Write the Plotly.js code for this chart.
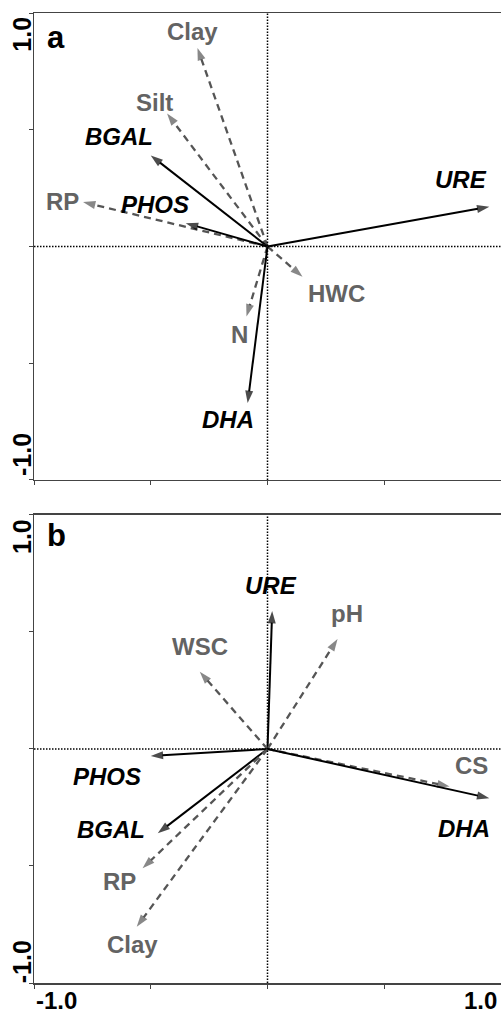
<!DOCTYPE html>
<html>
<head>
<meta charset="utf-8">
<script src="https://cdn.plot.ly/plotly-3.0.1.min.js"></script>
<style>html,body{margin:0;padding:0;background:#fff;}#chart{width:501px;height:1015px;}</style>
</head>
<body>
<div id="chart"></div>
<script>
// ---- Data ----
const namesA = ['Clay','Silt','BGAL','RP','PHOS','URE','HWC','N','DHA'];
const xA     = [-0.30, -0.43, -0.50, -0.79, -0.35, 0.95, 0.15, -0.09, -0.085];
const yA     = [ 0.85,  0.57,  0.39,  0.19,  0.10, 0.17, -0.13, -0.30, -0.67];

const namesB = ['URE','pH','WSC','PHOS','BGAL','RP','Clay','CS','DHA'];
const xB     = [0.02, 0.30, -0.29, -0.50, -0.47, -0.535, -0.56, 0.78, 0.95];
const yB     = [0.59, 0.47,  0.33, -0.03, -0.36, -0.51, -0.76, -0.16, -0.21];

const enzymes = ['BGAL','PHOS','URE','DHA'];
const axisLabels = ['-1.0','1.0'];
const panelLabels = ['a','b'];

// ---- Styling ----
const FONT = 'Liberation Sans, Arial, Helvetica, sans-serif';
const GREY = '#555555';
const GREYTXT = '#636363';
// label pixel offsets from arrow tips [dx, dy(up)]
const offA = {Clay:[-5,17], Silt:[-13,11], BGAL:[-32,19], RP:[-21,1], PHOS:[-31,19],
              URE:[-28,27], HWC:[34,-17], N:[-7,-18], DHA:[-20,-17]};
const offB = {URE:[-1,25], pH:[9,26], WSC:[0,25], PHOS:[-44,-20], BGAL:[-47,4],
              RP:[-23,-13], Clay:[-4,-18], CS:[22,21], DHA:[-25,-30]};

const traces = [];
const annotations = [];

function addPanel(names, xs, ys, xref, yref, offs) {
  names.forEach((n, i) => {
    const enz = enzymes.includes(n);
    const col = enz ? '#000000' : GREY;
    traces.push({
      type: 'scatter', mode: 'lines+markers',
      x: [0, xs[i]], y: [0, ys[i]],
      xaxis: xref, yaxis: yref,
      line: {color: col, width: enz ? 2 : 2.3, dash: enz ? 'solid' : '7px,5px'},
      marker: {symbol: 'arrow', size: [0, 13], angleref: 'previous', color: col, line: {width: 0}},
      hoverinfo: 'skip', showlegend: false
    });
    const o = offs[n];
    annotations.push({
      x: xs[i], y: ys[i], xref: xref, yref: yref,
      xshift: o[0], yshift: o[1], showarrow: false,
      xanchor: 'center', yanchor: 'middle',
      text: n,
      font: {family: FONT, size: 24, weight: 'bold', style: enz ? 'italic' : 'normal',
             color: enz ? '#000000' : GREYTXT}
    });
  });
}
addPanel(namesA, xA, yA, 'x', 'y', offA);
addPanel(namesB, xB, yB, 'x2', 'y2', offB);

// axis end labels
const axFont = {family: FONT, size: 25, weight: 'bold', color: '#000'};
function pY(py) { return (982.7 - py) / 969.4; }
function pX(px) { return (px - 34) / 467; }
[[35, axisLabels[1]], [455, axisLabels[0]], [537, axisLabels[1]], [962, axisLabels[0]]].forEach(([py, t]) => {
  annotations.push({xref: 'paper', yref: 'paper', x: pX(22), y: pY(py), text: t, textangle: -90,
    showarrow: false, xanchor: 'center', yanchor: 'middle', font: axFont});
});
[[56, axisLabels[0]], [480, axisLabels[1]]].forEach(([px, t]) => {
  annotations.push({xref: 'paper', yref: 'paper', x: pX(px), y: pY(1014.5), text: t,
    showarrow: false, xanchor: 'center', yanchor: 'bottom', borderpad: 0,
    font: {family: FONT, size: 24, weight: 'bold', color: '#000'}});
});
[[38, panelLabels[0]], [535, panelLabels[1]]].forEach(([py, t]) => {
  annotations.push({xref: 'paper', yref: 'paper', x: pX(56), y: pY(py), text: t,
    showarrow: false, xanchor: 'center', yanchor: 'middle',
    font: {family: FONT, size: 31, weight: 'bold', color: '#000'}});
});

// dotted zero lines
const shapes = [];
[['x','y'],['x2','y2']].forEach(([xr, yr]) => {
  shapes.push({type: 'line', xref: xr, yref: yr + ' domain', x0: 0, x1: 0, y0: 0, y1: 1,
    line: {color: '#000', width: 1.5, dash: '1.5px,1.5px'}});
  shapes.push({type: 'line', xref: xr + ' domain', yref: yr, x0: 0, x1: 1, y0: 0, y1: 0,
    line: {color: '#000', width: 1.5, dash: '1.5px,1.5px'}});
});

const axCommon = {
  range: [-1, 1], showgrid: false, zeroline: false, showline: true,
  linecolor: '#444', linewidth: 1.5, ticks: 'outside', ticklen: 4, tickwidth: 1,
  tickcolor: '#444', tickvals: [-1, -0.5, 0, 0.5, 1], showticklabels: false, fixedrange: true
};

const layout = {
  width: 501, height: 1015,
  margin: {l: 34, r: 0, t: 13.3, b: 32.3, pad: 0},
  paper_bgcolor: '#fff', plot_bgcolor: '#fff',
  showlegend: false,
  xaxis:  Object.assign({}, axCommon, {anchor: 'y', domain: [0, 1], mirror: true}),
  yaxis:  Object.assign({}, axCommon, {anchor: 'x', domain: [0.5186, 1]}),
  xaxis2: Object.assign({}, axCommon, {anchor: 'y2', domain: [0, 1], mirror: true}),
  yaxis2: Object.assign({}, axCommon, {anchor: 'x2', domain: [0, 0.4825]}),
  annotations: annotations,
  shapes: shapes
};

Plotly.newPlot('chart', traces, layout, {displayModeBar: false, staticPlot: true});
</script>
</body>
</html>
